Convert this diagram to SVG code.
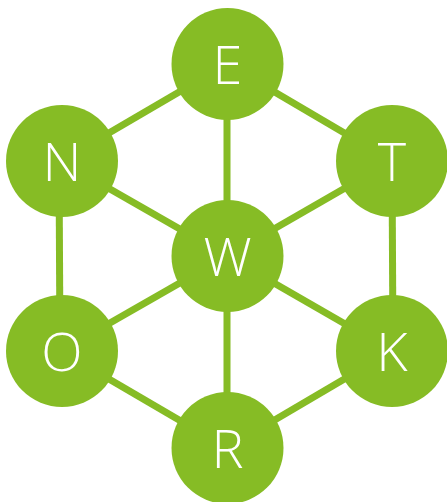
<svg xmlns="http://www.w3.org/2000/svg" width="447" height="502" viewBox="0 0 447 502">
<style>
.e{stroke:#86bc25;stroke-width:7;fill:none}
.n{fill:#86bc25}
.t{fill:#fff;font-family:"Open Sans",sans-serif;font-weight:300;font-size:54px;text-anchor:middle}
</style>
<rect width="447" height="502" fill="#fff"/>
<g id="connectors">
<line class="e" x1="227" y1="64" x2="61" y2="161"/>
<line class="e" x1="227" y1="64" x2="392" y2="161"/>
<line class="e" x1="227" y1="64" x2="227" y2="256"/>
<line class="e" x1="61" y1="161" x2="227" y2="256"/>
<line class="e" x1="392" y1="161" x2="227" y2="256"/>
<line class="e" x1="59" y1="161" x2="60" y2="351"/>
<line class="e" x1="392" y1="161" x2="393" y2="351"/>
<line class="e" x1="227" y1="256" x2="61" y2="351"/>
<line class="e" x1="227" y1="256" x2="392" y2="351"/>
<line class="e" x1="227" y1="256" x2="227" y2="448"/>
<line class="e" x1="61" y1="351" x2="227" y2="448"/>
<line class="e" x1="392" y1="351" x2="227" y2="448"/>
</g>
<g id="node-E"><circle class="n" cx="227.5" cy="64" r="56"/><text class="t" x="227.5" y="84">E</text></g>
<g id="node-N"><circle class="n" cx="62" cy="161" r="56"/><text class="t" x="62" y="181">N</text></g>
<g id="node-T"><circle class="n" cx="392" cy="161" r="56"/><text class="t" x="392" y="181">T</text></g>
<g id="node-W"><circle class="n" cx="227.5" cy="256" r="56"/><text class="t" x="227.5" y="276">W</text></g>
<g id="node-O"><circle class="n" cx="62" cy="351" r="56"/><text class="t" x="62" y="371">O</text></g>
<g id="node-K"><circle class="n" cx="392" cy="351" r="56"/><text class="t" x="392" y="371">K</text></g>
<g id="node-R"><circle class="n" cx="227.5" cy="448" r="56"/><text class="t" x="227.5" y="468">R</text></g>
</svg>
